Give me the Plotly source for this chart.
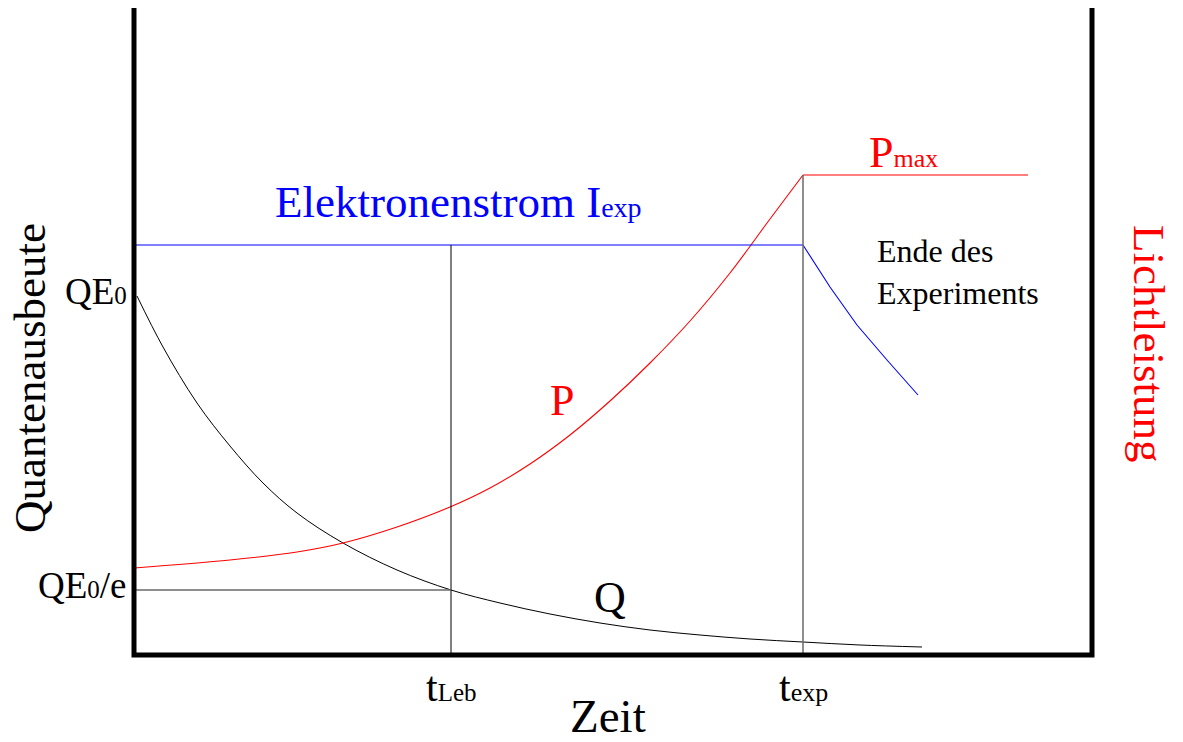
import plotly.graph_objects as go

# Time axis (arbitrary units) and characteristic times
t_leb = 3.17
t_exp = 6.69
t_end = 9.58
y_top = 6.47

# Levels
QE0 = 3.59
QE0_e = 0.65
I_exp = 4.10
P_max = 4.80

# Quantum efficiency Q(t)
q_t = [0.03, 0.29, 0.63, 0.96, 1.29, 1.63, 2.09, 2.63, 3.17, 3.66, 4.16, 4.66,
       5.16, 5.66, 6.16, 6.69, 7.26, 7.88]
q_y = [3.59, 3.08, 2.52, 2.09, 1.72, 1.42, 1.12, 0.85, 0.65, 0.52, 0.41, 0.32,
       0.25, 0.20, 0.16, 0.13, 0.10, 0.08]

# Light output P(t)
p_t = [0.0, 0.96, 1.63, 2.09, 2.63, 3.16, 3.56, 3.96, 4.36, 4.76, 5.16, 5.56,
       5.96, 6.36, 6.69]
p_y = [0.87, 0.95, 1.03, 1.12, 1.28, 1.48, 1.67, 1.91, 2.20, 2.54, 2.92, 3.34,
       3.82, 4.36, 4.80]

# Saturated light output after the end of the experiment
pmax_t = [t_exp, 8.94]
pmax_y = [P_max, P_max]

# Electron current
i_t = [0.0, t_exp, 6.96, 7.23, 7.53, 7.84]
i_y = [I_exp, I_exp, 3.68, 3.30, 2.95, 2.60]

FONT = "Liberation Serif"
RED = "#ff0000"
BLUE = "#0000ff"


def small(txt, size):
    return f'<span style="font-size:{size}px">{txt}</span>'


fig = go.Figure()

fig.add_trace(go.Scatter(x=q_t, y=q_y, mode="lines",
                         line=dict(color="black", width=1, shape="spline", smoothing=1.0),
                         hoverinfo="skip"))
fig.add_trace(go.Scatter(x=p_t, y=p_y, mode="lines",
                         line=dict(color=RED, width=1.1, shape="spline", smoothing=1.0),
                         hoverinfo="skip"))
fig.add_trace(go.Scatter(x=pmax_t, y=pmax_y, mode="lines",
                         line=dict(color=RED, width=1.1), hoverinfo="skip"))
fig.add_trace(go.Scatter(x=i_t, y=i_y, mode="lines",
                         line=dict(color=BLUE, width=1.1), hoverinfo="skip"))

shapes = [
    # guide lines
    dict(type="line", x0=t_leb, x1=t_leb, y0=0, y1=I_exp,
         line=dict(color="black", width=1)),
    dict(type="line", x0=t_exp, x1=t_exp, y0=0, y1=P_max,
         line=dict(color="#6a6a6a", width=1.5)),
    dict(type="line", x0=0, x1=t_leb, y0=QE0_e, y1=QE0_e,
         line=dict(color="#6a6a6a", width=1.5)),
    # frame: left axis, time axis, right axis
    dict(type="path",
         path=f"M 0,{y_top} L 0,0 L {t_end},0 L {t_end},{y_top}",
         line=dict(color="black", width=5)),
]

annotations = [
    dict(x=-1.04, y=2.77, text="Quantenausbeute", textangle=-90,
         font=dict(size=45, color="black")),
    dict(x=10.15, y=3.12, text="Lichtleistung", textangle=90,
         font=dict(size=45, color=RED)),
    dict(x=4.74, y=-0.61, text="Zeit", font=dict(size=47, color="black")),
    dict(x=-0.05, y=QE0, yshift=5, xanchor="right", text="QE" + small("0", 25),
         font=dict(size=37, color="black")),
    dict(x=-0.05, y=QE0_e, yshift=5, xanchor="right", text="QE" + small("0", 25) + "/e",
         font=dict(size=37, color="black")),
    dict(x=t_leb, y=-0.32, text="t" + small("Leb", 25),
         font=dict(size=42, color="black")),
    dict(x=t_exp, y=-0.32, text="t" + small("exp", 26),
         font=dict(size=42, color="black")),
    dict(x=1.39, y=4.53, xanchor="left", text="Elektronenstrom I" + small("exp", 28),
         font=dict(size=45, color=BLUE)),
    dict(x=7.33, y=5.03, xanchor="left", text="P" + small("max", 26),
         font=dict(size=44, color=RED)),
    dict(x=4.28, y=2.55, text="P", font=dict(size=44, color=RED)),
    dict(x=4.76, y=0.58, text="Q", font=dict(size=44, color="black")),
    dict(x=7.41, y=3.83, xanchor="left", align="left",
         text="Ende des<br>Experiments", font=dict(size=32, color="black")),
]
for a in annotations:
    a.setdefault("showarrow", False)
    a["xref"] = "x"
    a["yref"] = "y"

fig.update_layout(
    width=1183, height=742,
    margin=dict(l=0, r=0, t=0, b=0),
    paper_bgcolor="white", plot_bgcolor="white",
    showlegend=False,
    font=dict(family=FONT),
    xaxis=dict(range=[-1.34, 10.49], visible=False, fixedrange=True),
    yaxis=dict(range=[-0.87, 6.55], visible=False, fixedrange=True),
    shapes=shapes,
    annotations=annotations,
)

fig.write_html("out.html", config={"displayModeBar": False})
